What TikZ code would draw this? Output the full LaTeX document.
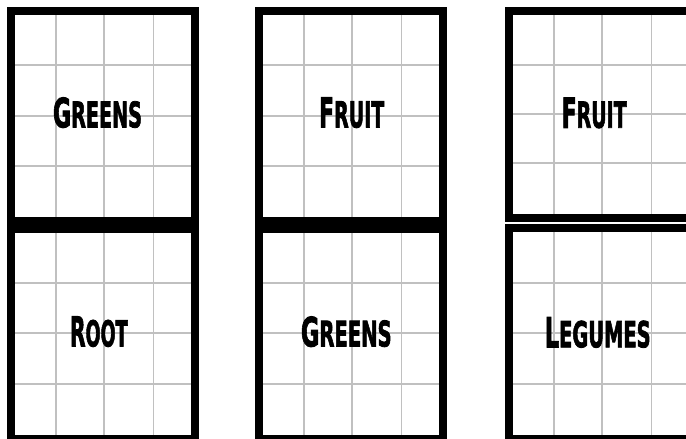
\documentclass[tikz,border=0pt]{standalone}
\usepackage{fontspec}
\usepackage{graphicx}
\newfontfamily\bedfont[BoldFeatures={FakeBold=2.5}]{DejaVu Sans}
\definecolor{gridgray}{HTML}{C0C0C0}
\newcommand\bedname[2]{{\bedfont\bfseries #1\scalebox{0.87}{#2}}}
\tikzset{
  bedborder/.style={line width=8pt, draw=black},
  gridline/.style={line width=1.8pt, draw=gridgray},
  bedlabel/.style={inner sep=0pt, anchor=center}
}
\begin{document}
\begin{tikzpicture}[x=1pt,y=-1pt]
\useasboundingbox (0,0) rectangle (686,439);
\fill[white] (0,0) rectangle (686,439);
\clip (0,0) rectangle (686,439);
\foreach \L/\T/\B/\ha/\hb/\hc in {
  7/7/225/65.3/115.7/166,
  7/225/443/283.3/333.3/384.3,
  255/7/225/65.3/115.7/166,
  255/225/443/283.3/333.3/384.3,
  505/7/222/65.3/114.3/163,
  505/224.3/443/283.3/333.3/384.3}{
  \begin{scope}
    \clip (\L+8,\T+8) rectangle (\L+184,\B-8);
    \foreach \dx in {49.3,97.3,146.5}
      \draw[gridline] (\L+\dx,\T) -- (\L+\dx,\B);
    \foreach \h in {\ha,\hb,\hc}
      \draw[gridline] (\L,\h) -- (\L+192,\h);
  \end{scope}
  \draw[bedborder] (\L+4,\T+4) rectangle (\L+188,\B-4);
}
\node[bedlabel] (g1) at (97.5,112.6) {\resizebox{89pt}{30pt}{\bedname{G}{REENS}}};
\node[bedlabel] (r1) at (98.8,331.7) {\resizebox{57.7pt}{30pt}{\bedname{R}{OOT}}};
\node[bedlabel] (f2) at (351.7,112.7) {\resizebox{65.3pt}{30pt}{\bedname{F}{RUIT}}};
\node[bedlabel] (g2) at (346.3,331.7) {\resizebox{90.7pt}{30pt}{\bedname{G}{REENS}}};
\node[bedlabel] (f3) at (594.2,113) {\resizebox{65pt}{30pt}{\bedname{F}{RUIT}}};
\node[bedlabel] (l3) at (597.8,332.5) {\resizebox{105.7pt}{30pt}{\bedname{L}{EGUMES}}};
\end{tikzpicture}
\end{document}
